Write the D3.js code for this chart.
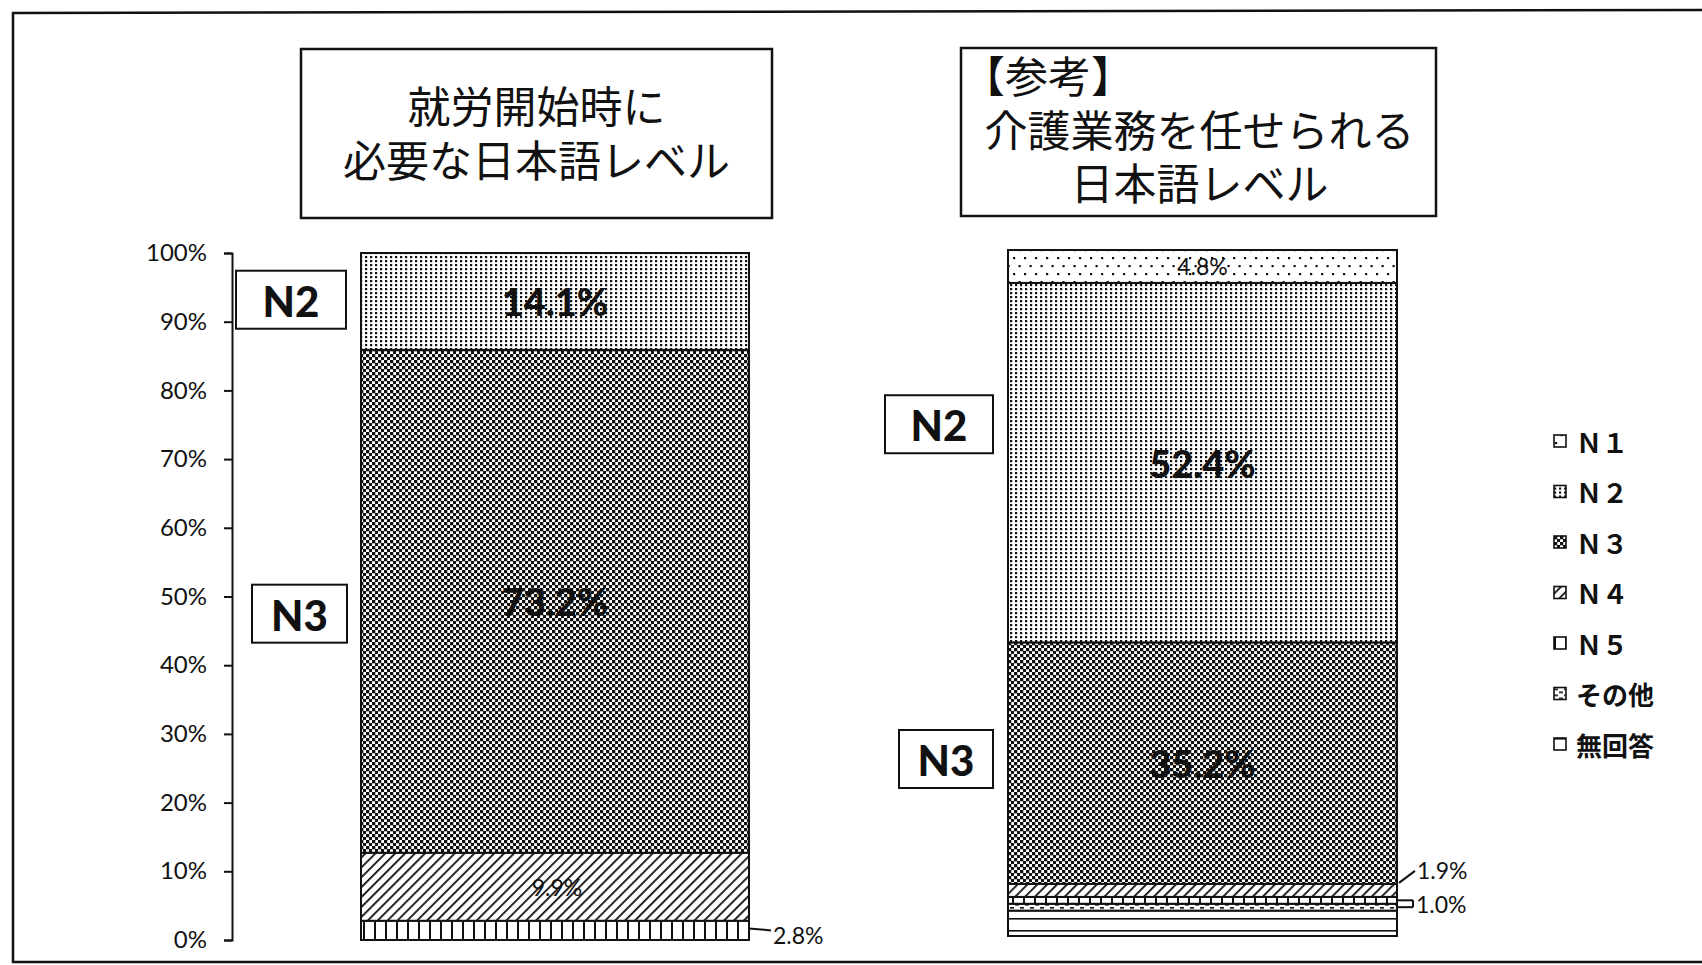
<!DOCTYPE html>
<html>
<head>
<meta charset="utf-8">
<script src="https://cdn.jsdelivr.net/npm/d3@7"></script>
<style>
  html, body { margin: 0; padding: 0; background: #fff; }
  svg { display: block; }
</style>
</head>
<body>
<script>
// ---- data ----
const seriesKeys = ['N1', 'N2', 'N3', 'N4', 'N5', 'その他', '無回答'];
const legendLabels = ['Ｎ１', 'Ｎ２', 'Ｎ３', 'Ｎ４', 'Ｎ５', 'その他', '無回答'];
const startValues = [0, 14.1, 73.2, 9.9, 2.8, 0, 0];      // 就労開始時に必要な日本語レベル
const careValues = [4.8, 52.4, 35.2, 1.9, 1.0, 1.0, 3.7]; // 介護業務を任せられる日本語レベル
const yTicks = [0, 10, 20, 30, 40, 50, 60, 70, 80, 90, 100];
const startTitle = ['就労開始時に', '必要な日本語レベル'];
const careTitle = ['【参考】', '介護業務を任せられる', '日本語レベル'];

const width = 1702, height = 965;

const svg = d3.select('body').append('svg')
  .attr('width', width)
  .attr('height', height);

// ---- fill patterns (monochrome, like the print) ----
const defs = svg.append('defs');

const addPattern = (id, w, h, draw, transform) => {
  const p = defs.append('pattern')
    .attr('id', id)
    .attr('patternUnits', 'userSpaceOnUse')
    .attr('width', w)
    .attr('height', h);
  if (transform) p.attr('patternTransform', transform);
  p.append('rect').attr('width', w).attr('height', h).attr('fill', '#fff');
  draw(p);
};

// N1: sparse dots
addPattern('pat-N1', 11, 16, (p) => {
  p.append('rect').attr('x', 1).attr('y', 1).attr('width', 2.2).attr('height', 2.2).attr('fill', '#111');
  p.append('rect').attr('x', 6.5).attr('y', 9).attr('width', 2.2).attr('height', 2.2).attr('fill', '#111');
});
// N2: dense dots
addPattern('pat-N2', 5, 4, (p) => {
  p.append('rect').attr('x', 0).attr('y', 0).attr('width', 2.2).attr('height', 2.2).attr('fill', '#111');
});
// N3: fine checker
addPattern('pat-N3', 6, 6, (p) => {
  p.append('rect').attr('x', 0).attr('y', 0).attr('width', 3.3).attr('height', 3.3).attr('fill', '#111');
  p.append('rect').attr('x', 3).attr('y', 3).attr('width', 3.3).attr('height', 3.3).attr('fill', '#111');
});
// N4: diagonal hatch
addPattern('pat-N4', 7, 7, (p) => {
  p.append('rect').attr('x', 0).attr('y', 0).attr('width', 1.8).attr('height', 7).attr('fill', '#111');
}, 'rotate(45)');
// N5: vertical lines
addPattern('pat-N5', 11, 10, (p) => {
  p.append('rect').attr('x', 0).attr('y', 0).attr('width', 2).attr('height', 10).attr('fill', '#111');
});
// その他: short dashes
addPattern('pat-other', 10, 6, (p) => {
  p.append('rect').attr('x', 0).attr('y', 1).attr('width', 4).attr('height', 1.6).attr('fill', '#111');
  p.append('rect').attr('x', 5).attr('y', 4).attr('width', 4).attr('height', 1.6).attr('fill', '#111');
});
// 無回答: horizontal lines
addPattern('pat-none', 10, 12, (p) => {
  p.append('rect').attr('x', 0).attr('y', 6).attr('width', 10).attr('height', 1.6).attr('fill', '#111');
});

const patternOf = {
  'N1': 'url(#pat-N1)', 'N2': 'url(#pat-N2)', 'N3': 'url(#pat-N3)', 'N4': 'url(#pat-N4)',
  'N5': 'url(#pat-N5)', 'その他': 'url(#pat-other)', '無回答': 'url(#pat-none)'
};

// ---- outer frame ----
svg.append('path')
  .attr('d', 'M1702,10 L13,13 L13,962 L1702,962')
  .attr('fill', 'none')
  .attr('stroke', '#111')
  .attr('stroke-width', 2.5);

// ---- panels ----
const panels = [
  {
    name: 'start', values: startValues, title: startTitle,
    xRange: [361, 749], yRange: [940, 253], axis: true,
    box: { x: 301, y: 49, w: 471, h: 169 },
    tags: [{ text: 'N2', at: 93.2, x: 236, w: 110 }, { text: 'N3', at: 47.5, x: 252, w: 95 }]
  },
  {
    name: 'care', values: careValues, title: careTitle,
    xRange: [1008, 1397], yRange: [936, 250], axis: false,
    box: { x: 961, y: 48, w: 475, h: 168 },
    tags: [{ text: 'N2', at: 74.6, x: 885, w: 108 }, { text: 'N3', at: 25.8, x: 899, w: 94 }]
  }
];

const latin = 'Lato, "Open Sans", "Liberation Sans", sans-serif';
const cjk = '"Noto Sans CJK JP", "Noto Sans", sans-serif';

panels.forEach((panel) => {
  const g = svg.append('g').attr('class', `panel-${panel.name}`);

  const x = d3.scaleBand().domain([panel.name]).range(panel.xRange).padding(0);
  const y = d3.scaleLinear().domain([0, 100]).range(panel.yRange);

  // title box, one text block with a tspan per line
  g.append('rect')
    .attr('x', panel.box.x).attr('y', panel.box.y)
    .attr('width', panel.box.w).attr('height', panel.box.h)
    .attr('fill', '#fff').attr('stroke', '#111').attr('stroke-width', 2.5);

  const title = g.append('text')
    .style('font-family', cjk)
    .style('font-size', '43px')
    .attr('fill', '#111');
  const midX = panel.box.x + panel.box.w / 2;

  if (panel.name === 'start') {
    panel.title.forEach((line, i) => {
      title.append('tspan')
        .attr('x', midX).attr('y', 123 + i * 54)
        .attr('text-anchor', 'middle')
        .text(line);
    });
  } else {
    title.append('tspan')
      .attr('x', panel.box.x + 1).attr('y', 93)
      .attr('text-anchor', 'start')
      .text(panel.title[0]);
    panel.title.slice(1).forEach((line, i) => {
      title.append('tspan')
        .attr('x', midX + 1).attr('y', 147 + i * 53)
        .attr('text-anchor', 'middle')
        .text(line);
    });
  }

  // y axis (left chart only)
  if (panel.axis) {
    const axis = g.append('g')
      .attr('transform', `translate(232,0)`)
      .call(d3.axisLeft(y).tickValues(yTicks).tickSize(8).tickPadding(17).tickFormat((d) => d + '%'));
    axis.select('.domain').attr('stroke', '#111').attr('stroke-width', 2);
    axis.selectAll('.tick line').attr('stroke', '#111').attr('stroke-width', 2);
    axis.selectAll('.tick text')
      .style('font-family', latin)
      .style('font-size', '24px')
      .attr('fill', '#111');
  }

  // stacked bar, 無回答 at the bottom and N1 at the top
  const row = { cat: panel.name };
  seriesKeys.forEach((k, i) => { row[k] = panel.values[i]; });
  const stack = d3.stack().keys(seriesKeys.slice().reverse());
  const layers = stack([row]);

  g.selectAll('.seg')
    .data(layers.filter((l) => l[0][1] - l[0][0] > 0))
    .enter()
    .append('rect')
    .attr('class', 'seg')
    .attr('x', x(panel.name))
    .attr('width', x.bandwidth())
    .attr('y', (l) => y(l[0][1]))
    .attr('height', (l) => y(l[0][0]) - y(l[0][1]))
    .attr('fill', (l) => patternOf[l.key])
    .attr('stroke', '#111')
    .attr('stroke-width', 2);

  const seg = (key) => layers.find((l) => l.key === key)[0];
  const mid = (key) => y((seg(key)[0] + seg(key)[1]) / 2);
  const cx = x(panel.name) + x.bandwidth() / 2;
  const right = x(panel.name) + x.bandwidth();

  const bigLabel = (key) => {
    g.append('text')
      .attr('x', cx).attr('y', mid(key))
      .attr('text-anchor', 'middle')
      .attr('dominant-baseline', 'central')
      .style('font-family', latin)
      .style('font-weight', 900)
      .style('font-size', '38px')
      .attr('fill', '#111')
      .text(panel.values[seriesKeys.indexOf(key)].toFixed(1) + '%');
  };
  const smallLabel = (key, tx, ty, anchor) => {
    g.append('text')
      .attr('x', tx).attr('y', ty)
      .attr('text-anchor', anchor)
      .attr('dominant-baseline', 'central')
      .style('font-family', latin)
      .style('font-size', '23px')
      .attr('fill', '#111')
      .text(panel.values[seriesKeys.indexOf(key)].toFixed(1) + '%');
  };
  const leader = (pts) => {
    g.append('path')
      .attr('d', d3.line()(pts))
      .attr('fill', 'none')
      .attr('stroke', '#111')
      .attr('stroke-width', 2);
  };

  bigLabel('N2');
  bigLabel('N3');

  if (panel.name === 'start') {
    smallLabel('N4', cx + 2, mid('N4'), 'middle');
    leader([[right, mid('N5') - 2], [right + 22, mid('N5')]]);
    smallLabel('N5', right + 24, mid('N5') + 5, 'start');
  } else {
    smallLabel('N1', cx, mid('N1'), 'middle');
    // 1.9% with a slanted leader
    leader([[right + 2, y(seg('N4')[1]) - 1], [right + 18, y(seg('N4')[1]) - 13]]);
    smallLabel('N4', right + 20, y(seg('N4')[1]) - 14, 'start');
    // 1.0% bracket shared by N5 and その他
    const yA = mid('N5'), yB = mid('その他');
    leader([[right, yA], [right + 16, yA]]);
    leader([[right, yB], [right + 16, yB]]);
    leader([[right + 16, yA], [right + 16, yB]]);
    smallLabel('N5', right + 19, (yA + yB) / 2, 'start');
  }

  // N2 / N3 side tags
  panel.tags.forEach((t) => {
    const ty = y(t.at);
    g.append('rect')
      .attr('x', t.x).attr('y', ty - 29)
      .attr('width', t.w).attr('height', 58)
      .attr('fill', '#fff').attr('stroke', '#111').attr('stroke-width', 2);
    g.append('text')
      .attr('x', t.x + t.w / 2).attr('y', ty + 1)
      .attr('text-anchor', 'middle')
      .attr('dominant-baseline', 'central')
      .style('font-family', latin)
      .style('font-weight', 900)
      .style('font-size', '42px')
      .attr('fill', '#111')
      .text(t.text);
  });
});

// ---- legend ----
const legend = svg.append('g').attr('class', 'legend');
const legendY = d3.scalePoint().domain(seriesKeys).range([441, 744]);

const items = legend.selectAll('.item')
  .data(seriesKeys)
  .enter()
  .append('g')
  .attr('class', 'item')
  .attr('transform', (d) => `translate(1554,${legendY(d)})`);

items.append('rect')
  .attr('x', 0).attr('y', -6)
  .attr('width', 12).attr('height', 12)
  .attr('fill', (d) => patternOf[d])
  .attr('stroke', '#111')
  .attr('stroke-width', 1.6);

items.append('text')
  .attr('x', 22).attr('y', 0)
  .attr('dominant-baseline', 'central')
  .style('font-family', cjk)
  .style('font-weight', 700)
  .style('font-size', '26px')
  .attr('fill', '#111')
  .text((d, i) => legendLabels[i]);
</script>
</body>
</html>
